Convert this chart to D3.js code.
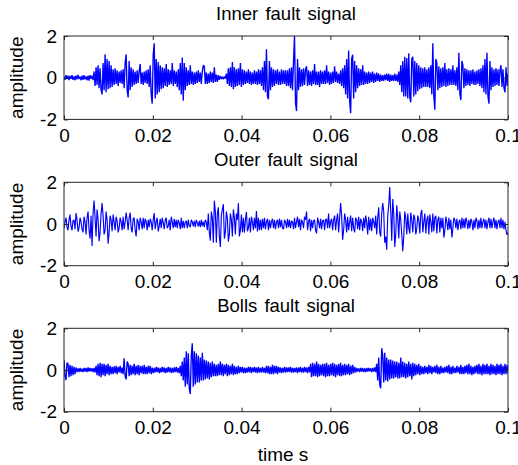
<!DOCTYPE html>
<html>
<head>
<meta charset="utf-8">
<script src="https://cdn.jsdelivr.net/npm/d3@7"></script>
<style>
  body { margin: 0; background: #fff; }
  text { font-family: "Liberation Sans", Arial, sans-serif; fill: #000; }
</style>
</head>
<body>
<svg id="chart" width="518" height="465"></svg>
<script>
// panel titles and axis values
const titles = ["Inner fault signal", "Outer fault signal", "Bolls fault signal"];
const xTicks = [0, 0.02, 0.04, 0.06, 0.08, 0.1];
const yTicks = [-2, 0, 2];
const duration = 0.1;

// amplitude samples, equally spaced over 0..0.1 s
const inner = [
  0.04, -0.1, 0.12, -0.06, 0.1, -0.12, 0.08, -0.05, 0.12, -0.1, 0.06, -0.12, 0.1, -0.08, 0.14, -0.06, 0.05, -0.12, 0.1, -0.1,
  0.12, -0.08, 0.06, -0.12, 0.1, -0.14, 0.12, -0.05, 0.1, -0.12, 0.3, -0.4, 0.5, -0.35, 0.6, -0.5, 0.45, -0.6, -0.8, 0.7,
  -0.6, 1.12, -0.7, 0.9, -0.55, 0.8, -0.5, 0.6, -0.45, 0.4, -0.35, 0.45, -0.3, 0.35, -0.4, 0.3, -0.25, 0.35, -0.3, 0.4,
  -0.5, 0.7, 1.12, -0.6, -0.95, 0.8, -0.6, 0.5, -0.45, 0.4, -0.35, 0.3, -0.3, 0.35, -0.25, 0.3, 0.65, -0.3, 0.25, -0.35,
  0.3, -0.25, 0.35, -0.3, 0.4, -0.45, 0.6, -0.8, -1.25, 1.1, 1.65, -1.0, 0.9, -0.8, 0.75, -0.7, 0.6, -0.55, 0.5, -0.5,
  0.45, -0.4, 0.65, -0.45, 0.4, -0.35, 0.35, -0.3, 0.7, -0.4, 0.35, -0.3, 0.3, -0.45, 0.4, -0.6, 0.7, -0.8, 0.97, -1.1,
  0.7, -0.6, 0.5, -0.4, 0.35, -0.35, 0.6, -0.3, 0.3, -0.35, 0.25, -0.3, 0.3, -0.25, 0.35, -0.2, 0.25, -0.3, 0.3, 0.58,
  0.55, -0.3, 0.25, -0.3, 0.2, -0.25, 0.3, -0.2, 0.25, -0.25, 0.5, -0.2, 0.15, -0.2, 0.12, -0.1, 0.08, -0.06, 0.05, -0.08,
  0.06, -0.05, 0.2, -0.3, 0.45, -0.4, 0.5, -0.45, 0.75, -0.55, 0.5, -0.45, 0.4, -0.4, 0.45, -0.35, 0.7, -0.45, 0.4, -0.35,
  0.35, -0.3, 0.3, -0.25, 0.4, -0.3, 0.3, -0.35, 0.25, -0.3, 0.35, -0.3, 0.3, -0.35, 0.4, -0.3, 0.35, -0.4, 0.5, -0.6,
  0.8, -0.7, 1.36, -0.9, -1.03, 0.8, -0.6, 0.5, -0.45, 0.4, -0.4, 0.35, -0.3, 0.4, -0.35, 0.3, -0.35, 0.4, -0.3, 0.35,
  -0.3, 0.35, -0.4, 0.35, -0.4, 0.45, -0.5, 0.5, -0.6, 0.8, 2.0, -1.2, -1.6, 0.9, -0.6, 0.5, -0.45, 0.4, -0.4, 0.45,
  -0.35, 0.4, 0.55, -0.4, 0.35, -0.35, 0.3, -0.4, 0.35, -0.3, 0.65, -0.35, 0.3, -0.35, 0.3, -0.45, 0.35, -0.3, 0.3, -0.3,
  0.35, -0.3, 0.6, -0.25, 0.3, -0.35, 0.25, -0.3, 0.3, -0.25, 0.55, -0.2, 0.3, -0.25, 0.2, -0.3, 0.35, -0.4, 0.45, -0.5,
  0.6, -0.8, 0.9, -1.0, 1.3, -1.1, -1.7, 0.9, 1.1, -1.0, 0.8, -0.7, 0.6, -0.5, 0.45, -0.4, 0.4, -0.35, 0.6, -0.35,
  0.3, -0.3, 0.25, -0.3, 0.3, -0.25, 0.25, -0.2, 0.3, -0.25, 0.2, -0.2, 0.25, -0.15, 0.2, -0.2, 0.15, -0.15, 0.12, -0.15,
  0.15, -0.12, 0.2, -0.15, 0.18, -0.2, 0.15, -0.15, 0.12, -0.15, 0.2, -0.15, 0.15, -0.2, 0.3, -0.35, 0.6, -0.7, 0.8, -0.9,
  1.0, -0.9, 0.95, -1.0, 1.17, -0.95, -1.18, 0.9, 1.0, -0.9, 0.8, -0.8, 0.7, -0.65, 0.6, -0.55, 0.5, -0.5, 0.45, -0.45,
  0.5, -0.45, 0.4, -0.45, 0.5, -0.5, 0.6, -0.8, 1.65, -0.9, -1.54, 0.9, 0.7, -0.6, 0.55, -0.5, 0.45, -0.45, 0.5, -0.4,
  0.7, -0.45, 0.4, -0.4, 0.45, -0.35, 0.4, -0.35, 0.6, -0.35, 0.35, -0.4, 0.5, -0.6, 1.2, -0.8, -1.07, 0.8, 0.6, -0.5,
  0.45, -0.4, 0.4, -0.35, 0.35, -0.4, 0.35, -0.3, 0.4, -0.35, 0.3, -0.35, 0.35, -0.3, 0.4, -0.4, 0.45, -0.5, 0.6, -0.7,
  0.9, -0.8, 1.2, -0.9, -1.25, 0.8, -0.6, 0.5, -0.45, 0.4, -0.4, 0.45, -0.35, 0.4, -0.4, 0.35, 0.6, -0.45, 0.4, -0.5,
  -0.7, 0.5, -0.4, 0.2
];

const outer = [
  -0.2, 0.1, 0.3, -0.15, -0.3, 0.2, 0.45, -0.1, -0.3, 0.15, 0.2, -0.25, 0.52, 0.2, -0.36, -0.2, 0.3, 0.1, -0.25, -0.4,
  0.35, 0.1, -0.5, 0.3, 0.6, -0.3, -0.7, 0.4, -1.05, 0.5, 1.12, 0.3, -0.6, 0.7, 0.2, -0.83, -0.4, 0.5, 1.0, 0.4,
  -0.5, -0.3, 0.6, 0.2, -0.95, -0.4, 0.4, 0.2, -0.35, 0.45, 0.1, -0.3, 0.35, 0.15, -0.4, -0.2, 0.3, 0.1, -0.3, 0.35,
  -0.25, 0.1, 0.55, 0.2, -0.3, 0.3, 0.55, -0.2, -0.4, 0.25, 0.3, -0.3, -0.6, 0.25, 0.1, -0.3, 0.3, 0.1, -0.25, 0.3,
  -0.2, 0.25, 0.1, -0.3, 0.2, -0.15, 0.25, 0.1, -0.3, 0.2, 0.52, -0.25, 0.1, 0.3, -0.36, -0.1, 0.25, -0.2, 0.3, 0.05,
  -0.25, 0.2, 0.3, -0.2, -0.1, 0.2, -0.3, 0.35, 0.1, -0.2, 0.25, -0.15, 0.2, -0.2, 0.2, 0.05, -0.25, 0.3, -0.2, 0.15,
  -0.2, 0.1, 0.15, -0.2, 0.2, -0.1, -0.15, 0.2, 0.1, -0.12, 0.15, -0.15, 0.2, 0.05, -0.12, 0.15, -0.15, 0.2, -0.1, 0.12,
  -0.15, 0.2, 0.1, -0.3, 0.5, -0.4, -0.8, 0.6, 0.3, -0.9, 1.12, 0.6, -0.9, 0.5, 0.8, -0.6, -1.1, 0.4, 0.7, 0.95,
  -0.7, -0.4, 0.6, 0.3, -0.85, -0.5, 0.5, 0.2, -0.6, 0.7, 0.3, -0.5, 0.5, 0.2, 1.0, -0.6, -0.3, 0.45, -0.4, 0.3,
  -0.4, 0.2, 0.58, -0.35, -0.2, 0.3, -0.4, 0.35, 0.1, -0.3, 0.3, -0.2, 0.62, -0.36, 0.3, -0.3, 0.2, -0.3, 0.25, -0.2,
  0.3, -0.25, 0.1, 0.25, -0.3, 0.2, -0.2, 0.1, 0.25, -0.2, 0.2, -0.25, 0.1, 0.2, -0.2, 0.25, -0.15, 0.2, -0.2, -0.25,
  0.2, 0.1, -0.2, 0.25, -0.15, 0.2, -0.2, 0.15, 0.1, -0.25, 0.3, -0.2, 0.1, 0.35, -0.15, 0.25, -0.3, 0.2, 0.1, -0.2,
  0.35, 0.2, 0.6, -0.3, 0.1, 0.25, -0.35, 0.2, -0.2, 0.15, 0.2, -0.3, -0.45, 0.3, 0.1, -0.2, 0.25, -0.25, 0.15, 0.2,
  -0.3, 0.2, 0.25, -0.2, 0.5, -0.2, 0.1, 0.25, -0.3, 0.2, 0.4, -0.3, 0.2, 0.5, -0.4, 0.3, 1.0, 0.4, -0.76, -0.3,
  0.5, 0.2, -0.4, 0.35, -0.3, 0.1, 0.4, -0.35, 0.3, -0.2, -0.4, 0.3, 0.2, -0.25, 0.35, -0.3, 0.25, 0.1, -0.35, 0.3,
  -0.2, 0.4, 0.1, -0.5, 0.35, -0.3, 0.25, -0.35, 0.3, 0.1, -0.2, 0.4, -0.5, 0.3, 0.8, -0.4, -0.6, 0.5, 1.0, 0.6,
  -0.9, -0.6, -1.23, 0.4, 0.9, 1.77, 0.6, -0.8, 1.2, 0.5, -1.1, -0.5, 0.9, 0.3, -0.7, 0.6, 0.2, -0.5, -1.3, -0.6,
  0.6, 0.3, -0.5, 0.5, -0.2, -0.45, 0.55, 0.2, -0.4, 0.45, 0.3, -0.5, -0.2, 0.4, 0.2, -0.45, 0.5, 0.68, -0.4, 0.1,
  0.5, -0.45, 0.2, 0.4, -0.5, 0.45, 0.1, -0.4, 0.5, -0.35, 0.3, 0.4, -0.45, 0.2, 0.35, -0.4, 0.3, -0.2, 0.3, -0.65,
  -0.3, 0.35, 0.1, -0.3, 0.3, -0.25, 0.2, -0.65, -0.2, 0.3, 0.2, -0.2, 0.25, -0.3, 0.1, 0.2, -0.25, 0.3, -0.2, 0.25,
  -0.2, 0.3, 0.1, -0.25, 0.2, -0.2, 0.25, 0.1, -0.3, 0.2, -0.2, 0.3, 0.15, -0.25, 0.2, -0.2, 0.3, -0.2, 0.1, 0.25,
  -0.2, 0.2, -0.25, 0.1, 0.3, -0.2, 0.25, -0.2, 0.1, 0.3, -0.2, 0.2, -0.25, 0.1, 0.2, -0.2, 0.3, -0.2, 0.2, -0.25,
  0.1, -0.3, -0.52, -0.4
];

const balls = [
  0.48, -0.3, -0.48, 0.35, 0.3, -0.35, 0.25, -0.3, 0.2, -0.25, 0.15, -0.2, 0.12, -0.1, 0.08, -0.1, 0.1, -0.08, 0.06, -0.1,
  0.1, -0.08, 0.1, -0.1, 0.12, -0.08, 0.1, -0.06, 0.08, -0.1, 0.1, -0.12, 0.2, -0.25, 0.3, -0.3, 0.35, -0.35, 0.3, -0.25,
  0.3, -0.3, 0.25, -0.2, 0.3, -0.25, 0.2, -0.2, 0.15, -0.2, 0.18, -0.15, 0.2, -0.2, 0.15, -0.12, 0.2, -0.15, 0.12, -0.2,
  0.56, -0.3, -0.45, 0.4, 0.3, -0.3, 0.25, -0.25, 0.2, -0.2, 0.3, -0.25, 0.2, -0.2, 0.25, -0.25, 0.2, -0.15, 0.2, -0.2,
  0.25, -0.2, 0.15, -0.2, 0.2, -0.15, 0.2, -0.2, 0.12, -0.15, 0.1, -0.12, 0.15, -0.1, 0.12, -0.15, 0.1, -0.12, 0.15, -0.1,
  0.12, -0.15, 0.1, -0.12, 0.15, -0.1, 0.12, -0.15, 0.1, -0.12, 0.12, -0.1, 0.15, -0.12, 0.1, -0.15, 0.2, -0.3, 0.4, -0.5,
  0.6, -0.8, 0.9, -0.7, 0.8, -0.9, -1.15, 0.7, 1.28, -0.8, 0.9, -0.7, 0.8, -0.6, 0.7, -0.6, 0.6, -0.5, 0.83, -0.5,
  0.5, -0.45, 0.45, -0.4, 0.4, -0.45, 0.35, -0.35, 0.4, -0.3, 0.3, -0.3, 0.25, -0.3, 0.3, -0.25, 0.4, -0.25, 0.3, -0.3,
  0.25, -0.2, 0.3, -0.3, 0.25, -0.25, 0.2, -0.2, 0.3, -0.25, 0.2, -0.2, 0.15, -0.2, 0.2, -0.15, 0.15, -0.12, 0.15, -0.15,
  0.12, -0.15, 0.1, -0.12, 0.15, -0.12, 0.15, -0.15, 0.12, -0.1, 0.15, -0.12, 0.12, -0.15, 0.15, -0.12, 0.1, -0.12, 0.15, -0.12,
  0.1, -0.15, 0.2, -0.15, 0.2, -0.2, 0.15, -0.2, 0.25, -0.2, 0.2, -0.15, 0.2, -0.2, 0.15, -0.12, 0.12, -0.15, 0.1, -0.12,
  0.15, -0.12, 0.12, -0.1, 0.12, -0.1, 0.15, -0.12, 0.1, -0.12, 0.1, -0.1, 0.12, -0.15, 0.12, -0.1, 0.15, -0.12, 0.1, -0.12,
  0.15, -0.1, 0.12, -0.15, 0.15, -0.12, 0.3, -0.35, 0.35, -0.3, 0.3, -0.3, 0.4, -0.35, 0.3, -0.3, 0.25, -0.25, 0.3, -0.3,
  0.3, -0.35, 0.35, -0.3, 0.25, -0.3, 0.3, -0.25, 0.35, -0.3, 0.3, -0.35, 0.25, -0.25, 0.3, -0.3, 0.35, -0.3, 0.25, -0.25,
  0.3, -0.25, 0.25, -0.2, 0.3, -0.25, 0.2, -0.2, 0.25, -0.15, 0.15, -0.12, 0.1, -0.08, 0.08, -0.1, 0.1, -0.08, 0.1, -0.1,
  0.08, -0.1, 0.1, -0.08, 0.1, -0.06, 0.08, -0.1, 0.1, -0.08, 0.12, -0.1, 0.3, -0.5, 0.6, -0.7, -0.88, 1.04, 0.7, -0.6,
  0.83, -0.5, 0.6, -0.55, 0.5, -0.45, 0.5, -0.4, 0.45, -0.4, 0.4, -0.35, 0.4, -0.4, 0.35, -0.4, 0.6, -0.35, 0.4, -0.35,
  0.35, -0.4, 0.3, -0.35, 0.4, -0.3, 0.3, -0.45, 0.35, -0.3, 0.3, -0.25, 0.25, -0.2, 0.3, -0.25, 0.2, -0.2, 0.15, -0.2,
  0.2, -0.15, 0.15, -0.2, 0.25, -0.15, 0.2, -0.2, 0.15, -0.12, 0.2, -0.15, 0.25, -0.2, 0.15, -0.2, 0.2, -0.15, 0.12, -0.15,
  0.15, -0.12, 0.2, -0.15, 0.25, -0.2, 0.15, -0.2, 0.2, -0.15, 0.12, -0.15, 0.2, -0.12, 0.15, -0.2, 0.25, -0.2, 0.15, -0.2,
  0.2, -0.15, 0.25, -0.2, 0.3, -0.2, 0.2, -0.25, 0.15, -0.2, 0.2, -0.15, 0.25, -0.2, 0.3, -0.2, 0.2, -0.25, 0.3, -0.2,
  0.25, -0.2, 0.3, -0.2, 0.2, -0.25, 0.3, -0.2, 0.25, -0.2, 0.2, -0.25, 0.3, -0.2, 0.25, -0.2, 0.3, -0.25, 0.2, -0.2,
  0.3, -0.2, 0.25, -0.15
];

const signals = [inner, outer, balls];
const strokeW = [1.35, 1.15, 1.35];

const svg = d3.select("#chart");
const left = 64, right = 508, panelH = 83.4;
const tops = [36, 182.3, 328.3];
const fontSize = 19;

const x = d3.scaleLinear().domain([0, duration]).range([left, right]);

signals.forEach((data, k) => {
  const top = tops[k];
  const y = d3.scaleLinear().domain([-2, 2]).range([top + panelH, top]);
  const g = svg.append("g").attr("class", "panel");
  const dt = duration / (data.length - 1);

  g.append("clipPath").attr("id", "clip" + k)
    .append("rect")
      .attr("x", left).attr("y", top)
      .attr("width", right - left).attr("height", panelH);

  const line = d3.line()
    .x((d, i) => x(i * dt))
    .y(d => y(d));

  g.append("path")
    .datum(data)
    .attr("clip-path", `url(#clip${k})`)
    .attr("fill", "none")
    .attr("stroke", "#0000ff")
    .attr("stroke-width", strokeW[k])
    .attr("stroke-linejoin", "miter")
    .attr("stroke-miterlimit", 2)
    .attr("d", line);

  // axes, ticks pointing inward
  g.append("g")
    .attr("transform", `translate(0,${top + panelH})`)
    .call(d3.axisBottom(x).tickValues(xTicks).tickFormat(d => String(d))
      .tickSizeInner(-4).tickSizeOuter(0).tickPadding(9));
  g.append("g")
    .attr("transform", `translate(0,${top})`)
    .call(d3.axisTop(x).tickValues(xTicks).tickFormat("")
      .tickSizeInner(-4).tickSizeOuter(0));
  g.append("g")
    .attr("transform", `translate(${left},0)`)
    .call(d3.axisLeft(y).tickValues(yTicks).tickFormat(d => String(d))
      .tickSizeInner(-4).tickSizeOuter(0).tickPadding(7));
  g.append("g")
    .attr("transform", `translate(${right},0)`)
    .call(d3.axisRight(y).tickValues(yTicks).tickFormat("")
      .tickSizeInner(-4).tickSizeOuter(0));

  g.selectAll(".domain").remove();
  g.selectAll(".tick line").attr("stroke", "#262626");
  g.selectAll(".tick text")
    .attr("fill", "#000")
    .style("font-size", fontSize + "px")
    .style("font-family", '"Liberation Sans", Arial, sans-serif');

  g.append("rect")
    .attr("x", left).attr("y", top)
    .attr("width", right - left).attr("height", panelH)
    .attr("fill", "none")
    .attr("stroke", "#262626")
    .attr("stroke-width", 1);

  g.append("text")
    .attr("x", (left + right) / 2)
    .attr("y", top - 16.5)
    .attr("text-anchor", "middle")
    .style("font-size", "18.5px")
    .style("word-spacing", "2px")
    .text(titles[k]);

  g.append("text")
    .attr("transform", `translate(23,${top + panelH / 2}) rotate(-90)`)
    .attr("text-anchor", "middle")
    .style("font-size", fontSize + "px")
    .text("amplitude");
});

svg.append("text")
  .attr("x", 283)
  .attr("y", 461)
  .attr("text-anchor", "middle")
  .style("font-size", fontSize + "px")
  .text("time s");
</script>
</body>
</html>
